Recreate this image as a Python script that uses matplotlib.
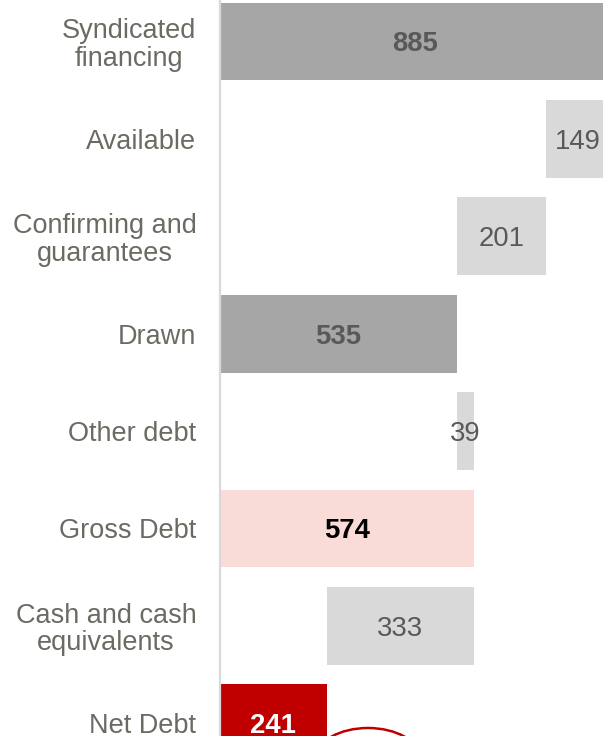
import matplotlib
matplotlib.use("Agg")
import matplotlib.pyplot as plt
from matplotlib.patches import Ellipse

plt.rcParams['font.family'] = ['Liberation Sans', 'DejaVu Sans']

# Debt bridge (EUR m)
categories = ["Syndicated\nfinancing", "Available", "Confirming and\nguarantees",
              "Drawn", "Other debt", "Gross Debt", "Cash and cash\nequivalents", "Net Debt"]
values = [885, 149, 201, 535, 39, 574, 333, 241]
steps = ["total", "minus", "minus", "total", "plus", "total", "minus", "total"]
labels = ["885", "149", "201", "535", "39", "574", "333", "241"]

total_colors = {"Syndicated\nfinancing": "#a6a6a6", "Drawn": "#a6a6a6",
                "Gross Debt": "#f9dcd7", "Net Debt": "#c00000"}
step_color = "#d9d9d9"

label_styles = {
    "Syndicated\nfinancing": ("#595959", "bold"),
    "Drawn": ("#595959", "bold"),
    "Gross Debt": ("#000000", "bold"),
    "Net Debt": ("#ffffff", "bold"),
}

# waterfall lefts
lefts = []
running = 0
for v, s in zip(values, steps):
    if s == "total":
        lefts.append(0)
        running = v
    elif s == "minus":
        running -= v
        lefts.append(running)
    else:
        lefts.append(running)
        running += v

W, H, DPI = 603, 736, 100
fig = plt.figure(figsize=(W / DPI, H / DPI), dpi=DPI)
ax_left_px = 220
ax = fig.add_axes([ax_left_px / W, 0, 1 - ax_left_px / W, 1])

px_per_unit = 0.4425
row_px = 97.4
first_center_px = 41.5
ax.set_xlim(0, (W - ax_left_px) / px_per_unit)
top = -first_center_px / row_px
ax.set_ylim(top + H / row_px, top)

ypos = list(range(len(categories)))
colors = [total_colors.get(c, step_color) for c in categories]
ax.barh(ypos, values, left=lefts, height=0.8, color=colors, linewidth=0)

xmax = ax.get_xlim()[1]
for y, c, v, l, txt in zip(ypos, categories, values, lefts, labels):
    color, weight = label_styles.get(c, ("#595959", "normal"))
    x0, x1 = l, min(l + v, xmax + 15)
    ax.text((x0 + x1) / 2, y + 0.03, txt, ha="center", va="center",
            fontsize=19.8, color=color, fontweight=weight)

ax.set_yticks(ypos)
ax.set_yticklabels(categories, fontsize=19.5, color="#6b6b63", linespacing=1.08)
for t in ax.get_yticklabels():
    t.set_multialignment("center")
ax.tick_params(axis="y", length=0, pad=17)
ax.set_xticks([])

for side in ("top", "right", "bottom"):
    ax.spines[side].set_visible(False)
ax.spines["left"].set_color("#d9d9d9")
ax.spines["left"].set_linewidth(1.6)

# highlight ring under Net Debt
cx = (368 - ax_left_px) / px_per_unit
cy = top + 758 / row_px
ax.add_patch(Ellipse((cx, cy), 104 / px_per_unit, 60 / row_px, fill=False,
                     edgecolor="#c00000", linewidth=1.8, clip_on=False))

fig.savefig("out.png", dpi=DPI)
